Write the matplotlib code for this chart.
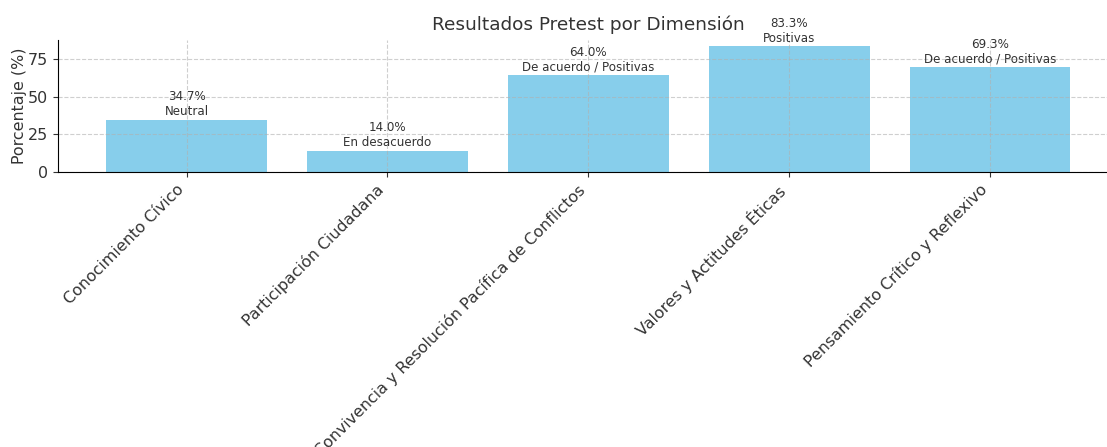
import matplotlib.pyplot as plt

dimensiones = [
    "Conocimiento Cívico",
    "Participación Ciudadana",
    "Convivencia y Resolución Pacífica de Conflictos",
    "Valores y Actitudes Éticas",
    "Pensamiento Crítico y Reflexivo",
]
porcentajes = [34.7, 14.0, 64.0, 83.3, 69.3]
categorias = ["Neutral", "En desacuerdo", "De acuerdo / Positivas", "Positivas", "De acuerdo / Positivas"]
yticks = [0, 25, 50, 75]

plt.rcParams["text.color"] = "#333333"
plt.rcParams["axes.labelcolor"] = "#333333"
plt.rcParams["xtick.color"] = "#333333"
plt.rcParams["ytick.color"] = "#333333"

fig = plt.figure(figsize=(11.07, 4.47), dpi=100)
ax = fig.add_axes([58 / 1107, 275 / 447, 1060.6 / 1107, 132 / 447])

bars = ax.bar(range(len(dimensiones)), porcentajes, color="skyblue")
for b, val, cat in zip(bars, porcentajes, categorias):
    ax.text(b.get_x() + b.get_width() / 2, val + 1, f"{val:.1f}%\n{cat}",
            ha="center", va="bottom", fontsize=8.6)

ax.set_ylim(0, max(porcentajes) * 1.05)
ax.set_yticks(yticks)
ax.set_xticks(range(len(dimensiones)))
ax.set_xticklabels(dimensiones, rotation=45, ha="right", fontsize=11.4)
ax.tick_params(axis="y", labelsize=11.4)
ax.set_ylabel("Porcentaje (%)", fontsize=11.4, labelpad=0.5)
ax.set_title("Resultados Pretest por Dimensión", fontsize=13.3, pad=7)
ax.grid(True, linestyle="--", alpha=0.6)
ax.spines["top"].set_visible(False)
ax.spines["right"].set_visible(False)

fig.savefig("out.png", dpi=100)
